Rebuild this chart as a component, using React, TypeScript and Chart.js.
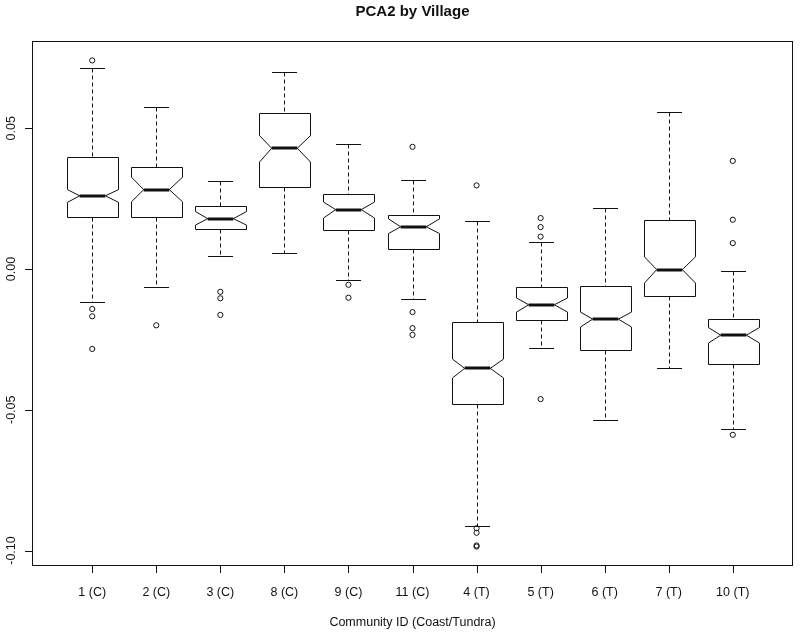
import React, { useEffect, useRef } from "react";
import { Chart, registerables } from "chart.js";

Chart.register(...registerables);

// ---- data ----
const categories = ["1 (C)", "2 (C)", "3 (C)", "8 (C)", "9 (C)", "11 (C)", "4 (T)", "5 (T)", "6 (T)", "7 (T)", "10 (T)"];
const whiskerHigh = [0.0715, 0.0576, 0.0314, 0.0699, 0.0443, 0.0316, 0.0169, 0.0097, 0.0216, 0.0558, -0.0006];
const q3 = [0.0398, 0.0363, 0.0225, 0.0555, 0.0267, 0.0192, -0.0187, -0.0065, -0.0062, 0.0175, -0.0178];
const notchHigh = [0.0282, 0.0326, 0.0204, 0.0474, 0.0238, 0.0178, -0.032, -0.0103, -0.0153, 0.0043, -0.0208];
const median = [0.026, 0.0282, 0.0179, 0.0429, 0.0211, 0.015, -0.0353, -0.0127, -0.0178, -0.0002, -0.0235];
const notchLow = [0.0237, 0.0239, 0.0156, 0.038, 0.0181, 0.0126, -0.0387, -0.0153, -0.0206, -0.005, -0.0263];
const q1 = [0.0185, 0.0186, 0.0142, 0.029, 0.014, 0.0072, -0.0478, -0.0181, -0.0287, -0.0095, -0.0337];
const whiskerLow = [-0.0117, -0.0063, 0.0045, 0.0058, -0.0038, -0.0107, -0.0912, -0.028, -0.0536, -0.0352, -0.0568];
const outliers = [
  [0.0741, -0.0142, -0.0168, -0.0284],
  [-0.02],
  [-0.0081, -0.0104, -0.0163],
  [],
  [-0.0056, -0.0102],
  [0.0434, -0.0153, -0.021, -0.0234],
  [0.0297, -0.0921, -0.0937, -0.0982, -0.0986],
  [0.0181, 0.0149, 0.0115, -0.0462],
  [],
  [],
  [0.0384, 0.0175, 0.0092, -0.0589],
];
const yTickValues = [-0.1, -0.05, 0.0, 0.05];
const yTickLabels = ["-0.10", "-0.05", "0.00", "0.05"];
const titleText = "PCA2 by Village";
const xTitleText = "Community ID (Coast/Tundra)";

const FONT = '"Liberation Sans", Arial, Helvetica, sans-serif';
const INK = "#111";

const snap = (v: number) => Math.round(v) + 0.5;

const boxPlugin = {
  id: "rBoxplot",
  beforeDatasetsDraw(chart: any) {
    const { ctx, scales } = chart;
    const xs = scales.x;
    const ys = scales.y;
    const unit = xs.getPixelForValue(1) - xs.getPixelForValue(0);
    const hw = unit * 0.4;
    const nw = hw / 2;
    const py = (v: number) => ys.getPixelForValue(v);
    ctx.save();
    ctx.strokeStyle = INK;
    ctx.lineJoin = "miter";
    categories.forEach((_, i) => {
      const x = snap(xs.getPixelForValue(i + 1));
      // whiskers (dashed)
      ctx.lineWidth = 1;
      ctx.setLineDash([4, 3]);
      ctx.beginPath();
      ctx.moveTo(x, snap(py(whiskerHigh[i])));
      ctx.lineTo(x, snap(py(q3[i])));
      ctx.moveTo(x, snap(py(q1[i])));
      ctx.lineTo(x, snap(py(whiskerLow[i])));
      ctx.stroke();
      ctx.setLineDash([]);
      // staples
      ctx.beginPath();
      ctx.moveTo(Math.round(x - nw), snap(py(whiskerHigh[i])));
      ctx.lineTo(Math.round(x + nw), snap(py(whiskerHigh[i])));
      ctx.moveTo(Math.round(x - nw), snap(py(whiskerLow[i])));
      ctx.lineTo(Math.round(x + nw), snap(py(whiskerLow[i])));
      ctx.stroke();
      // notched box
      const L = snap(x - hw);
      const R = snap(x + hw);
      const yT = snap(py(q3[i]));
      const yB = snap(py(q1[i]));
      const yNH = py(notchHigh[i]);
      const yNL = py(notchLow[i]);
      const yM = py(median[i]);
      ctx.beginPath();
      ctx.moveTo(L, yT);
      ctx.lineTo(R, yT);
      ctx.lineTo(R, yNH);
      ctx.lineTo(x + nw, yM);
      ctx.lineTo(R, yNL);
      ctx.lineTo(R, yB);
      ctx.lineTo(L, yB);
      ctx.lineTo(L, yNL);
      ctx.lineTo(x - nw, yM);
      ctx.lineTo(L, yNH);
      ctx.closePath();
      ctx.fillStyle = "#fff";
      ctx.fill();
      ctx.stroke();
      // median
      ctx.lineWidth = 3;
      ctx.beginPath();
      ctx.moveTo(x - nw, Math.round(yM));
      ctx.lineTo(x + nw, Math.round(yM));
      ctx.stroke();
    });
    ctx.restore();
  },
  afterDraw(chart: any) {
    const { ctx, chartArea, scales } = chart;
    const xs = scales.x;
    const ys = scales.y;
    const { left, right, top, bottom } = chartArea;
    ctx.save();
    ctx.strokeStyle = INK;
    ctx.fillStyle = INK;
    ctx.lineWidth = 1;
    // frame
    ctx.strokeRect(left + 0.5, top + 0.5, right - left - 1, bottom - top - 1);
    // y ticks
    ctx.beginPath();
    yTickValues.forEach((v) => {
      const y = snap(ys.getPixelForValue(v));
      ctx.moveTo(left + 0.5, y);
      ctx.lineTo(left - 7, y);
    });
    // x ticks
    categories.forEach((_, i) => {
      const x = snap(xs.getPixelForValue(i + 1));
      ctx.moveTo(x, bottom - 0.5);
      ctx.lineTo(x, bottom + 7);
    });
    ctx.stroke();
    // y tick labels (rotated)
    ctx.font = `12.5px ${FONT}`;
    ctx.textAlign = "center";
    ctx.textBaseline = "middle";
    yTickValues.forEach((v, k) => {
      const y = ys.getPixelForValue(v);
      ctx.save();
      ctx.translate(12, y);
      ctx.rotate(-Math.PI / 2);
      ctx.fillText(yTickLabels[k], 0, 0);
      ctx.restore();
    });
    // x tick labels
    categories.forEach((c, i) => {
      const x = xs.getPixelForValue(i + 1);
      ctx.fillText(c, x, 593);
    });
    // axis title
    const cx = (left + right) / 2;
    ctx.fillText(xTitleText, cx, 623);
    // main title
    ctx.font = `bold 15px ${FONT}`;
    ctx.fillText(titleText, cx, 12);
    ctx.restore();
  },
};

export default function App() {
  const ref = useRef<HTMLCanvasElement | null>(null);
  useEffect(() => {
    if (!ref.current) return;
    const points: { x: number; y: number }[] = [];
    outliers.forEach((arr, i) => arr.forEach((v) => points.push({ x: i + 1, y: v })));
    const chart = new Chart(ref.current, {
      type: "scatter",
      data: {
        datasets: [
          {
            data: points,
            pointRadius: 2.6,
            pointHoverRadius: 2.6,
            pointBorderWidth: 1,
            pointBorderColor: INK,
            pointBackgroundColor: "rgba(0,0,0,0)",
            showLine: false,
          },
        ],
      },
      options: {
        responsive: false,
        animation: false,
        events: [],
        layout: { padding: { left: 32, right: 7, top: 41, bottom: 72 } },
        scales: {
          x: { type: "linear", min: 0.06, max: 11.94, display: false },
          y: { type: "linear", min: -0.1055, max: 0.081, display: false },
        },
        plugins: {
          legend: { display: false },
          tooltip: { enabled: false },
          title: { display: false },
        },
      },
      plugins: [boxPlugin],
    });
    return () => chart.destroy();
  }, []);
  return (
    <div style={{ position: "fixed", left: 0, top: 0, width: 800, height: 638, background: "#fff" }}>
      <canvas ref={ref} width={800} height={638} style={{ display: "block", width: 800, height: 638 }} />
    </div>
  );
}
